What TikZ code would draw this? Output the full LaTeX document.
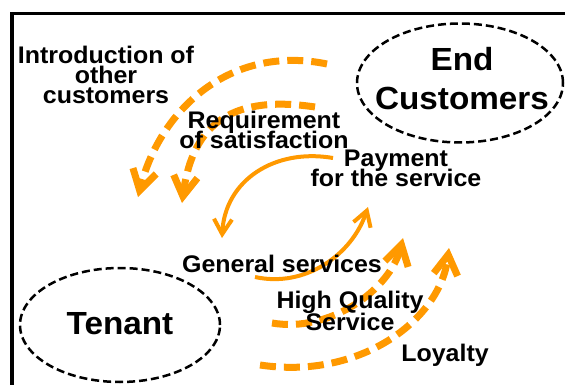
\documentclass[tikz,border=0pt]{standalone}
\usepackage{fontspec}
\setmainfont[FakeStretch=1.04]{Liberation Sans}
\usetikzlibrary{arrows.meta,shapes.geometric}
\definecolor{flow}{HTML}{FF9900}
\newcommand\tightlines{\lineskiplimit-50pt\relax}

\begin{document}
\begin{tikzpicture}[x=1pt, y=-1pt,
   lbl/.style = {align=center, inner sep=0pt, font=\fontsize{24}{20}\selectfont\bfseries\tightlines},
   big/.style = {align=center, inner sep=0pt, font=\fontsize{32}{39}\selectfont\bfseries\tightlines},
   party/.style = {ellipse, draw, line width=2.5pt, dash pattern=on 8pt off 4pt, inner sep=0pt},
   flowline/.style = {draw=flow, line width=4pt, -{Straight Barb[length=15pt,width=18pt]}},
   flowdash/.style = {draw=flow, line width=7pt, dash pattern=on 16pt off 8pt, -{Straight Barb[length=20pt,width=24pt]}}]
   \useasboundingbox (0,0) rectangle (565,385);
   \begin{scope}
      \clip (0,0) rectangle (565,385);
      \draw[line width=3.5pt] (12,400) -- (12,13.5) -- (580,13.5);
   \end{scope}
   % the two parties
   \node[party, minimum width=206pt, minimum height=119pt] (custell) at (460,83) {};
   \node[party, minimum width=200pt, minimum height=114pt] (tenell) at (120,325) {};
   % ends of the flows
   \coordinate (intro-a) at (327,64);  \coordinate (intro-b) at (138,197);
   \coordinate (req-a) at (315,107);   \coordinate (req-b) at (182,203);
   \coordinate (pay-a) at (333,158);   \coordinate (pay-b) at (222,238);
   \coordinate (gen-a) at (255,277);   \coordinate (gen-b) at (368,207);
   \coordinate (hqs-a) at (272,323);   \coordinate (hqs-b) at (403,238);
   \coordinate (loy-a) at (260,365);   \coordinate (loy-b) at (449,248);
   \draw[flowdash] (intro-a) .. controls (230,44) and (160,110) .. (intro-b);
   \draw[flowdash] (req-a) .. controls (235,95) and (193,121) .. (req-b);
   \draw[flowline] (pay-a) .. controls (275,148) and (225,180) .. (pay-b);
   \draw[flowline] (gen-a) .. controls (305,288) and (352,255) .. (gen-b);
   \draw[flowdash] (hqs-a) .. controls (330,333) and (390,290) .. (hqs-b);
   \draw[flowdash] (loy-a) .. controls (360,380) and (440,320) .. (loy-b);
   % texts
   \node[big] (cust) at (462,79) {End\\Customers};
   \node[big, anchor=base] (tenant) at (120,334) {Tenant};
   \node[lbl] (intro) at (106,74.5) {Introduction of\\other\\customers};
   \node[lbl] (req) at (264,129.5) {Requirement\\of satisfaction};
   \node[lbl] (pay) at (396,168) {Payment\\for the service};
   \node[lbl, anchor=base] (gen) at (282,272) {General services};
   \node[lbl, font=\fontsize{24}{22}\selectfont\bfseries\tightlines] (hqs) at (350,310.5) {High Quality\\Service};
   \node[lbl, anchor=base] (loy) at (445,361) {Loyalty};
\end{tikzpicture}
\end{document}
